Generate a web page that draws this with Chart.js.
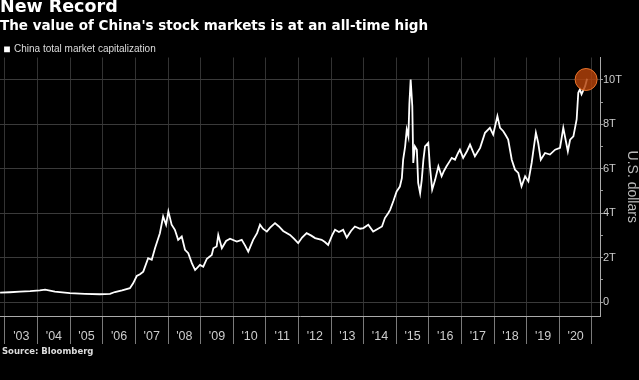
<!DOCTYPE html>
<html><head><meta charset="utf-8">
<script src="https://cdn.jsdelivr.net/npm/chart.js@4"></script>
<style>html,body{margin:0;padding:0;background:#000;}canvas{display:block;}</style>
</head><body>
<canvas id="c" width="639" height="380"></canvas>
<script>
// Decimal-year positions
const dates = [
2002.85,2003.15,2003.46,2003.77,2004.07,2004.23,2004.53,2004.99,2005.45,2005.91,
2006.22,2006.37,2006.59,2006.83,2006.93,2007.04,2007.14,2007.24,2007.39,2007.50,
2007.60,2007.75,2007.85,2007.94,2008.01,2008.11,2008.21,2008.31,2008.42,2008.52,
2008.62,2008.73,2008.83,2008.98,2009.08,2009.19,2009.34,2009.39,2009.49,2009.54,
2009.65,2009.78,2009.90,2010.11,2010.26,2010.36,2010.46,2010.61,2010.73,2010.82,
2010.91,2011.03,2011.13,2011.28,2011.40,2011.53,2011.74,2011.86,2011.99,2012.11,
2012.25,2012.38,2012.51,2012.71,2012.81,2012.91,2013.03,2013.12,2013.24,2013.37,
2013.48,2013.61,2013.73,2013.89,2013.99,2014.14,2014.29,2014.44,2014.56,2014.65,
2014.75,2014.81,2014.91,2015.01,2015.11,2015.17,2015.21,2015.27,2015.32,2015.37,
2015.40,2015.44,2015.49,2015.52,2015.57,2015.63,2015.67,2015.73,2015.78,2015.83,
2015.88,2015.98,2016.03,2016.10,2016.19,2016.29,2016.39,2016.46,2016.54,2016.62,
2016.70,2016.80,2016.89,2016.95,2017.05,2017.17,2017.26,2017.41,2017.57,2017.72,
2017.87,2017.97,2018.10,2018.18,2018.28,2018.36,2018.43,2018.54,2018.64,2018.74,
2018.84,2018.95,2019.05,2019.15,2019.22,2019.28,2019.35,2019.43,2019.56,2019.71,
2019.87,2020.02,2020.12,2020.20,2020.26,2020.33,2020.43,2020.53,2020.58,2020.63,
2020.68,2020.79,2020.85
];
// China total market capitalization, trillions of US dollars
const capTrillions = [
0.42,0.44,0.47,0.49,0.52,0.56,0.47,0.40,0.37,0.35,
0.37,0.45,0.52,0.62,0.84,1.17,1.25,1.37,1.97,1.90,
2.42,3.10,3.85,3.48,4.08,3.48,3.25,2.80,2.95,2.35,
2.20,1.75,1.44,1.67,1.59,1.95,2.12,2.42,2.50,3.02,
2.42,2.75,2.85,2.72,2.80,2.55,2.27,2.80,3.10,3.48,
3.30,3.17,3.35,3.55,3.40,3.20,3.02,2.85,2.65,2.90,
3.10,3.00,2.88,2.80,2.70,2.57,3.00,3.25,3.15,3.25,
2.90,3.20,3.40,3.30,3.33,3.48,3.17,3.30,3.40,3.78,
4.00,4.15,4.55,4.98,5.20,5.58,6.41,7.00,7.77,7.46,
8.90,10.02,8.82,6.26,7.01,6.86,5.36,4.90,5.50,6.40,
7.01,7.17,6.11,5.06,5.50,6.11,5.66,5.90,6.11,6.30,
6.49,6.41,6.70,6.86,6.49,6.80,7.09,6.56,6.94,7.62,
7.84,7.54,8.37,7.84,7.69,7.50,7.31,6.41,5.96,5.81,
5.21,5.66,5.43,6.26,7.00,7.62,7.17,6.41,6.71,6.64,
6.86,6.94,7.84,7.24,6.79,7.31,7.46,8.22,9.42,9.57,
9.35,9.72,10.05
];
const recordDate = [2020.82];
const recordValue = [10.02];
const yearLines = [2003,2004,2005,2006,2007,2008,2009,2010,2011,2012,2013,2014,2015,2016,2017,2018,2019,2020,2021];
const yearLabels = ["'03","'04","'05","'06","'07","'08","'09","'10","'11","'12","'13","'14","'15","'16","'17","'18","'19","'20"];
const yTickValues = [0,1,2,3,4,5,6,7,8,9,10];
const yTickLabels = ["0","","2T","","4T","","6T","","8T","","10T"];

const isYear = v => Math.abs(v - Math.round(v)) < 1e-6;

const sourcePlugin = {
  id: 'sourceNote',
  afterDraw(chart) {
    const ctx = chart.ctx;
    ctx.save();
    ctx.font = 'bold 8.5px "DejaVu Sans"';
    ctx.fillStyle = '#dddddd';
    ctx.textAlign = 'left';
    ctx.textBaseline = 'alphabetic';
    ctx.fillText('Source: Bloomberg', 2, 354);
    ctx.restore();
  }
};

new Chart(document.getElementById('c'), {
  type: 'line',
  data: {
    datasets: [
      {
        label: 'China total market capitalization',
        data: dates.map((d, i) => ({x: d, y: capTrillions[i]})),
        borderColor: '#ffffff',
        backgroundColor: '#ffffff',
        borderWidth: 1.8,
        pointRadius: 0,
        tension: 0,
        order: 1
      },
      {
        label: 'Record',
        data: recordDate.map((d, i) => ({x: d, y: recordValue[i]})),
        showLine: false,
        pointRadius: 11,
        pointHoverRadius: 11,
        backgroundColor: 'rgba(180,66,10,0.82)',
        borderColor: '#e8742c',
        borderWidth: 1,
        order: 0
      }
    ]
  },
  options: {
    responsive: false,
    animation: false,
    events: [],
    layout: {autoPadding: false, padding: {top: 0, left: 0, right: 0, bottom: 36}},
    plugins: {
      tooltip: {enabled: false},
      title: {
        display: true, text: 'New Record', align: 'start', color: '#ffffff',
        font: {family: 'DejaVu Sans', size: 17.5, weight: 'bold', lineHeight: 1.2},
        padding: {top: -3, bottom: 0}
      },
      subtitle: {
        display: true, text: "The value of China's stock markets is at an all-time high",
        align: 'start', color: '#ffffff',
        font: {family: 'DejaVu Sans', size: 13.5, weight: 'bold', lineHeight: 1.2},
        padding: {top: 0.7, bottom: 4.5}
      },
      legend: {
        display: true, position: 'top', align: 'start', maxHeight: 18.1,
        labels: {
          boxWidth: 4, boxHeight: 4, padding: 5, color: '#dddddd',
          font: {family: 'Liberation Sans', size: 10},
          filter: item => item.datasetIndex === 0
        }
      }
    },
    scales: {
      x: {
        type: 'linear', position: 'bottom', min: 2002.847, max: 2021.246,
        afterBuildTicks: s => {
          const t = [];
          yearLines.forEach((y, i) => {
            t.push({value: y});
            if (i < yearLabels.length) t.push({value: y + 0.5});
          });
          s.ticks = t;
        },
        afterFit: s => { s.height = 28; },
        grid: {
          color: c => (c.tick && isYear(c.tick.value)) ? '#333333' : 'rgba(0,0,0,0)',
          tickColor: c => (c.tick && isYear(c.tick.value)) ? '#7a7a7a' : 'rgba(0,0,0,0)',
          tickLength: 28,
          lineWidth: 1
        },
        border: {color: '#aaaaaa', width: 1},
        ticks: {
          autoSkip: false, maxRotation: 0, minRotation: 0, padding: -14.5,
          color: '#cccccc', font: {family: 'Liberation Sans', size: 12.5},
          callback: v => isYear(v) ? '' : yearLabels[yearLines.indexOf(Math.floor(v))]
        }
      },
      y: {
        type: 'linear', position: 'right', min: -0.63, max: 11.01,
        afterBuildTicks: s => { s.ticks = yTickValues.map(v => ({value: v})); },
        afterFit: s => { s.width = 39; },
        grid: {
          color: c => (c.tick && Math.round(c.tick.value) % 2 === 0) ? '#3a3a3a' : 'rgba(0,0,0,0)',
          tickColor: '#999999',
          tickLength: 3
        },
        border: {color: '#aaaaaa', width: 1},
        ticks: {
          padding: 0, color: '#cccccc', font: {family: 'Liberation Sans', size: 11},
          callback: v => yTickLabels[yTickValues.indexOf(Math.round(v))]
        },
        title: {
          display: true, text: 'U.S. dollars', color: '#bbbbbb',
          font: {family: 'Liberation Sans', size: 14},
          padding: {top: -1, bottom: 0}
        }
      }
    }
  },
  plugins: [sourcePlugin]
});
</script>
</body></html>
